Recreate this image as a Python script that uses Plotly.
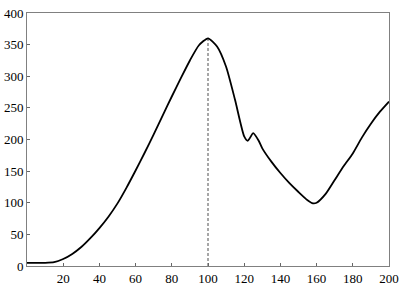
import plotly.graph_objects as go

x_vals = [0, 5, 10, 15, 20, 25, 30, 35, 40, 45, 50, 55, 60, 65, 70, 75, 80, 85, 90, 95,
          100, 105, 110, 115, 120, 122, 125, 128, 130, 135, 140, 145, 150, 155, 158, 160,
          165, 170, 175, 180, 185, 190, 195, 200]
y_vals = [5, 5, 5, 6, 11, 19, 30, 44, 60, 78, 99, 124, 151, 179, 208, 238, 268, 297, 325, 349,
          360, 347, 315, 262, 205, 198, 210, 198, 186, 165, 147, 131, 117, 104, 99, 100,
          114, 136, 158, 178, 203, 225, 244, 260]
peak_x = [100, 100]
peak_y = [0, 360]
x_ticks = [20, 40, 60, 80, 100, 120, 140, 160, 180, 200]
y_ticks = [0, 50, 100, 150, 200, 250, 300, 350, 400]

fig = go.Figure()
fig.add_trace(go.Scatter(x=peak_x, y=peak_y, mode="lines",
                         line=dict(color="#222", width=0.8, dash="3px,2px"), hoverinfo="skip"))
fig.add_trace(go.Scatter(x=x_vals, y=y_vals, mode="lines",
                         line=dict(color="black", width=1.8, shape="spline", smoothing=0.6)))

axis_common = dict(showgrid=False, zeroline=False, showline=True, linecolor="#808080",
                   linewidth=1, mirror=True, ticks="inside", ticklen=3, tickcolor="#666",
                   automargin=False,
                   tickfont=dict(family="Liberation Serif, Times New Roman, serif", size=13,
                                 color="black"))
fig.update_xaxes(range=[0, 200], tickvals=x_ticks, **axis_common)
fig.update_yaxes(range=[0, 400], tickvals=y_ticks, **axis_common)
fig.update_layout(width=403, height=287, margin=dict(l=27, r=14, t=13, b=21),
                  paper_bgcolor="white", plot_bgcolor="white", showlegend=False)
fig.write_html("out.html")
